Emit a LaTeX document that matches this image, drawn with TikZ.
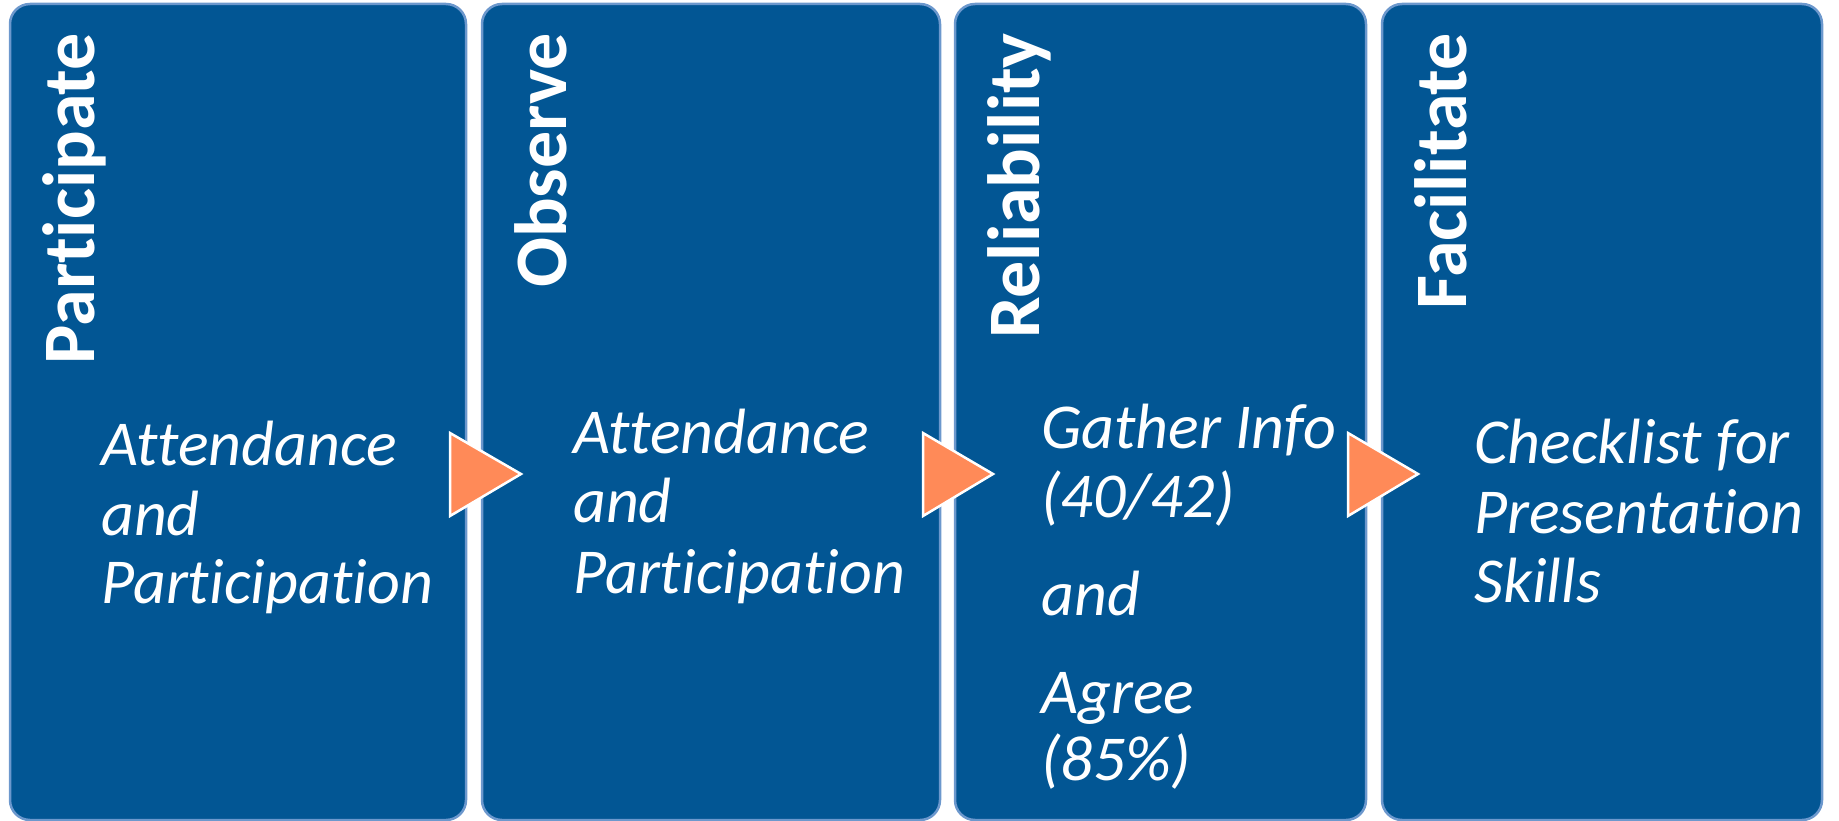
\documentclass[tikz,border=0pt]{standalone}
\usepackage{fontspec}
\setmainfont{Carlito}[Ligatures={NoCommon}]
\definecolor{boxblue}{RGB}{2,86,148}
\definecolor{boxedge}{RGB}{108,152,205}
\definecolor{arrowfill}{RGB}{255,138,88}
\begin{document}
\begin{tikzpicture}[x=1pt,y=-1pt,
  stepbox/.style={draw=boxedge,line width=2.5pt,fill=boxblue,rounded corners=20pt},
  tri/.style={draw=white,line width=2.5pt,fill=arrowfill,line join=miter},
  titletext/.style={text=white,font=\fontsize{74}{80}\selectfont\bfseries,inner sep=0pt,rotate=90,anchor=base east},
  bodytext/.style={text=white,font=\fontsize{64}{69}\selectfont\itshape,inner sep=0pt,anchor=base west}]
\useasboundingbox (0,0) rectangle (1839,821);
% boxes
\draw[stepbox] (10,4) rectangle (466,820);
\draw[stepbox] (482,4) rectangle (940,820);
\draw[stepbox] (955,4) rectangle (1366,820);
\draw[stepbox] (1382,4) rectangle (1822,820);
% arrows
\coordinate (a1t) at (450,433); \coordinate (a1p) at (521,474); \coordinate (a1b) at (450,516);
\coordinate (a2t) at (923,433); \coordinate (a2p) at (993,474); \coordinate (a2b) at (923,516);
\coordinate (a3t) at (1348,433); \coordinate (a3p) at (1418,474); \coordinate (a3b) at (1348,516);
\draw[tri] (a1t) -- (a1p) -- (a1b) -- cycle;
\draw[tri] (a2t) -- (a2p) -- (a2b) -- cycle;
\draw[tri] (a3t) -- (a3p) -- (a3b) -- cycle;
% titles
\node[titletext] (h1) at (94,33) {Participate};
\node[titletext] (h2) at (566,33) {Observe};
\node[titletext] (h3) at (1039,33) {Reliability};
\node[titletext] (h4) at (1466,33) {Facilitate};
% body texts
\node[bodytext] (t1a) at (101,465) {Attendance};
\node[bodytext] (t1b) at (101,535) {and};
\node[bodytext] (t1c) at (101,603) {Participation};
\node[bodytext] (t2a) at (573,453) {Attendance};
\node[bodytext] (t2b) at (573,522) {and};
\node[bodytext] (t2c) at (573,593) {Participation};
\node[bodytext] (t3a) at (1041,448) {Gather Info};
\node[bodytext] (t3b) at (1041,517) {(40/42)};
\node[bodytext] (t3c) at (1041,615) {and};
\node[bodytext] (t3d) at (1041,713) {Agree};
\node[bodytext] (t3e) at (1041,780) {(85\%)};
\node[bodytext] (t4a) at (1474,463) {Checklist for};
\node[bodytext] (t4b) at (1474,533) {Presentation};
\node[bodytext] (t4c) at (1474,602) {Skills};
\end{tikzpicture}
\end{document}
